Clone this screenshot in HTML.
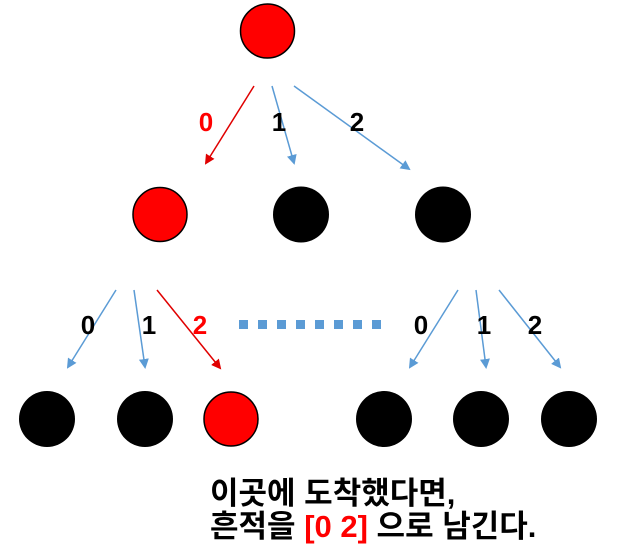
<!DOCTYPE html>
<html><head><meta charset="utf-8"><style>
html,body{margin:0;padding:0;background:#fff;}
svg{display:block;}
text{font-family:"Liberation Sans","Noto Sans CJK KR",sans-serif;font-weight:bold;}
</style></head><body>
<svg width="623" height="560" viewBox="0 0 623 560">
<defs>
<marker id="ar" markerWidth="10" markerHeight="10" refX="8" refY="5" orient="auto" markerUnits="userSpaceOnUse"><path d="M0,0 L10,5 L0,10 z" fill="#e00000"/></marker>
<marker id="ab" markerWidth="10" markerHeight="10" refX="8" refY="5" orient="auto" markerUnits="userSpaceOnUse"><path d="M0,0 L10,5 L0,10 z" fill="#5b9bd5"/></marker>
</defs>
<ellipse cx="267.5" cy="31" rx="27" ry="27" fill="#ff0000" stroke="#000" stroke-width="1.5"/>
<line x1="254" y1="86" x2="206" y2="163" stroke="#e00000" stroke-width="1.5" marker-end="url(#ar)"/>
<line x1="272" y1="86" x2="294" y2="163" stroke="#5b9bd5" stroke-width="1.5" marker-end="url(#ab)"/>
<line x1="294" y1="86" x2="409" y2="169" stroke="#5b9bd5" stroke-width="1.5" marker-end="url(#ab)"/>
<text x="206" y="131" fill="#ff0000" font-size="26" text-anchor="middle">0</text>
<text x="279" y="131" fill="#000" font-size="26" text-anchor="middle">1</text>
<text x="357" y="131" fill="#000" font-size="26" text-anchor="middle">2</text>
<ellipse cx="160" cy="214.5" rx="27" ry="27" fill="#ff0000" stroke="#000" stroke-width="1.5"/>
<ellipse cx="301" cy="214.5" rx="28" ry="28" fill="#000"/>
<ellipse cx="443" cy="214.5" rx="28" ry="28" fill="#000"/>
<line x1="116" y1="290" x2="68" y2="367" stroke="#5b9bd5" stroke-width="1.5" marker-end="url(#ab)"/>
<line x1="134" y1="290" x2="145" y2="367" stroke="#5b9bd5" stroke-width="1.5" marker-end="url(#ab)"/>
<line x1="157" y1="290" x2="220" y2="368" stroke="#e00000" stroke-width="1.5" marker-end="url(#ar)"/>
<line x1="458" y1="290" x2="410" y2="367" stroke="#5b9bd5" stroke-width="1.5" marker-end="url(#ab)"/>
<line x1="476" y1="290" x2="486" y2="367" stroke="#5b9bd5" stroke-width="1.5" marker-end="url(#ab)"/>
<line x1="499" y1="290" x2="560" y2="367" stroke="#5b9bd5" stroke-width="1.5" marker-end="url(#ab)"/>
<text x="88" y="334" fill="#000" font-size="26" text-anchor="middle">0</text>
<text x="149" y="334" fill="#000" font-size="26" text-anchor="middle">1</text>
<text x="200" y="334" fill="#ff0000" font-size="26" text-anchor="middle">2</text>
<text x="421" y="334" fill="#000" font-size="26" text-anchor="middle">0</text>
<text x="484" y="334" fill="#000" font-size="26" text-anchor="middle">1</text>
<text x="535" y="334" fill="#000" font-size="26" text-anchor="middle">2</text>
<g fill="#5b9bd5">
<rect x="239" y="320" width="9" height="9"/><rect x="258" y="320" width="9" height="9"/><rect x="277" y="320" width="9" height="9"/><rect x="296" y="320" width="9" height="9"/><rect x="315" y="320" width="9" height="9"/><rect x="334" y="320" width="9" height="9"/><rect x="353" y="320" width="9" height="9"/><rect x="372" y="320" width="9" height="9"/>
</g>
<ellipse cx="47" cy="419" rx="28" ry="28" fill="#000"/>
<ellipse cx="145" cy="419" rx="28" ry="28" fill="#000"/>
<ellipse cx="231" cy="419" rx="27" ry="27" fill="#ff0000" stroke="#000" stroke-width="1.5"/>
<ellipse cx="384" cy="419" rx="28" ry="28" fill="#000"/>
<ellipse cx="481" cy="419" rx="28" ry="28" fill="#000"/>
<ellipse cx="569" cy="419" rx="28" ry="28" fill="#000"/>
<text x="210" y="504" fill="#000" font-size="31">이곳에 도착했다면,</text>
<text x="210" y="537" fill="#000" font-size="31">흔적을 <tspan fill="#ff0000">[0 2]</tspan> 으로 남긴다.</text>
</svg>
</body></html>
